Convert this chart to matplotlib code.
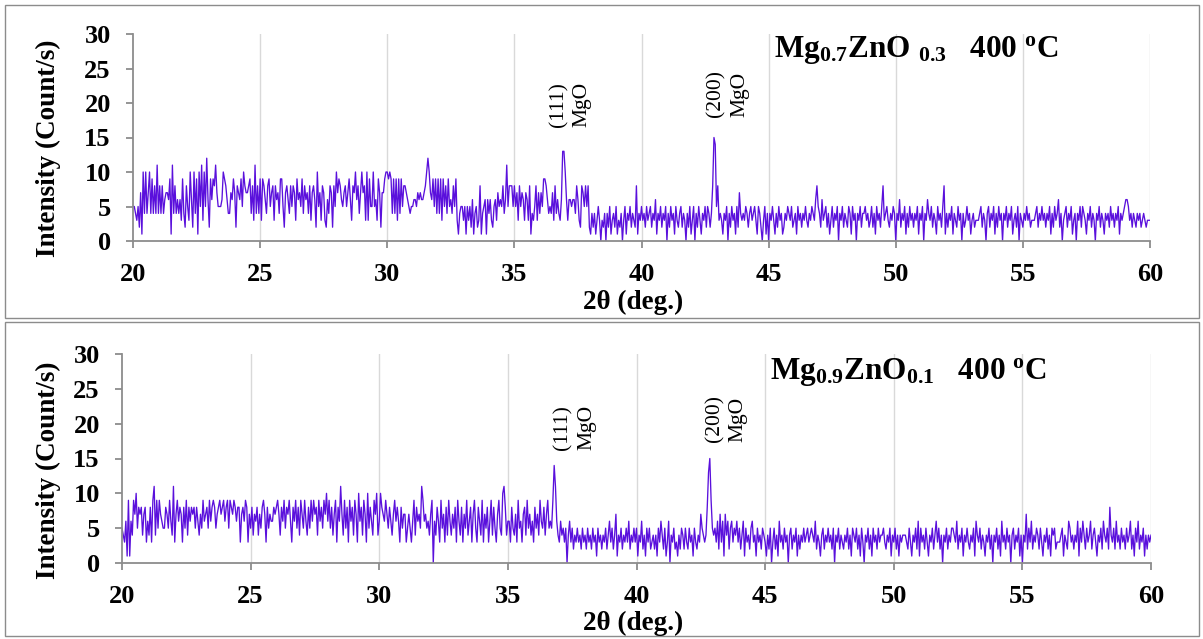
import numpy as np
import matplotlib
matplotlib.use("Agg")
import matplotlib.pyplot as plt
from matplotlib.patches import Rectangle

plt.rcParams["font.family"] = ["Liberation Serif", "DejaVu Serif"]
plt.rcParams["mathtext.fontset"] = "custom"
plt.rcParams["mathtext.rm"] = "Liberation Serif"
plt.rcParams["mathtext.bf"] = "Liberation Serif:bold"
plt.rcParams["mathtext.default"] = "bf"

# XRD scans, 20-60 deg, 0.05 deg step; one list per 5 degrees
top_20 = [5, 5, 4, 3, 5, 2, 7, 1, 10, 4, 10, 4, 7, 10, 4, 9, 4, 8, 4, 11,
          4, 8, 4, 8, 4, 6, 7, 7, 6, 9, 1, 11, 4, 8, 4, 6, 4, 6, 3, 9,
          4, 2, 8, 5, 3, 10, 6, 2, 10, 4, 9, 1, 10, 5, 11, 3, 10, 5, 12, 6,
          2, 9, 6, 9, 8, 11, 7, 5, 5, 5, 6, 10, 9, 8, 6, 4, 4, 7, 6, 9,
          7, 2, 8, 7, 6, 9, 5, 10, 8, 7, 7, 8, 9, 4, 8, 3, 11, 4, 8, 4]
top_25 = [9, 3, 9, 8, 6, 4, 8, 9, 5, 7, 8, 3, 8, 6, 7, 4, 9, 9, 5, 2,
          7, 8, 6, 4, 8, 5, 8, 7, 3, 9, 6, 7, 5, 9, 4, 8, 6, 7, 4, 8,
          3, 7, 8, 6, 2, 10, 5, 7, 3, 8, 7, 3, 2, 6, 4, 8, 7, 2, 8, 5,
          10, 7, 9, 8, 6, 5, 7, 8, 5, 7, 9, 6, 3, 8, 7, 10, 6, 8, 4, 7,
          10, 7, 8, 3, 10, 3, 9, 5, 5, 10, 5, 6, 3, 9, 7, 2, 7, 7, 9, 10]
top_30 = [10, 9, 10, 9, 4, 9, 4, 9, 3, 9, 4, 9, 5, 8, 8, 7, 6, 5, 4, 5,
          5, 6, 6, 5, 7, 6, 7, 6, 6, 7, 8, 10, 12, 10, 7, 6, 9, 5, 9, 4,
          9, 4, 9, 3, 9, 5, 8, 4, 9, 5, 6, 4, 8, 5, 9, 3, 1, 4, 5, 5,
          3, 5, 1, 5, 3, 5, 2, 6, 1, 4, 5, 2, 3, 8, 1, 4, 5, 6, 1, 6,
          4, 6, 3, 2, 5, 6, 3, 7, 5, 6, 5, 8, 4, 6, 11, 5, 8, 8, 8, 5]
top_35 = [8, 5, 7, 3, 8, 5, 7, 6, 3, 7, 6, 3, 8, 1, 4, 3, 5, 8, 3, 7,
          4, 7, 5, 9, 9, 8, 6, 4, 5, 4, 7, 3, 8, 4, 6, 4, 3, 6, 13, 13,
          10, 6, 3, 6, 6, 5, 6, 6, 4, 8, 6, 3, 2, 8, 7, 5, 8, 5, 8, 2,
          1, 4, 2, 4, 1, 3, 5, 3, 0, 3, 2, 4, 0, 4, 2, 5, 1, 3, 4, 2,
          5, 1, 3, 2, 4, 0, 3, 5, 1, 4, 3, 5, 2, 4, 3, 2, 8, 1, 4, 3]
top_40 = [5, 3, 4, 2, 5, 3, 4, 5, 2, 4, 3, 6, 1, 4, 3, 5, 2, 4, 3, 5,
          0, 4, 2, 5, 3, 4, 1, 5, 3, 2, 4, 5, 2, 4, 3, 0, 4, 2, 5, 1,
          3, 5, 0, 4, 2, 5, 3, 1, 4, 3, 5, 2, 5, 4, 2, 4, 8, 15, 14, 5,
          8, 3, 4, 3, 1, 4, 3, 5, 0, 4, 2, 5, 3, 4, 1, 5, 2, 7, 4, 3,
          4, 3, 5, 4, 2, 4, 5, 3, 4, 5, 3, 1, 5, 4, 2, 0, 3, 5, 1, 4]
top_45 = [0, 4, 3, 5, 3, 1, 4, 2, 5, 3, 4, 1, 2, 4, 3, 5, 4, 3, 5, 2,
          3, 4, 1, 5, 3, 4, 2, 4, 3, 5, 3, 2, 4, 3, 5, 4, 3, 6, 8, 5,
          4, 2, 6, 3, 4, 5, 2, 4, 1, 3, 5, 2, 4, 3, 5, 0, 4, 3, 5, 2,
          4, 3, 2, 5, 4, 1, 5, 3, 4, 0, 4, 3, 5, 2, 4, 4, 5, 3, 4, 2,
          3, 5, 2, 4, 1, 5, 3, 4, 2, 5, 8, 3, 4, 5, 3, 2, 4, 3, 5, 4]
top_50 = [0, 4, 3, 6, 2, 4, 3, 5, 1, 4, 2, 5, 3, 4, 2, 4, 3, 5, 1, 4,
          3, 5, 0, 4, 3, 6, 4, 3, 5, 2, 4, 3, 1, 5, 3, 4, 2, 5, 8, 1,
          4, 2, 4, 3, 5, 1, 4, 3, 2, 5, 3, 4, 0, 4, 2, 3, 5, 3, 4, 1,
          3, 4, 2, 3, 3, 3, 4, 5, 2, 4, 3, 0, 4, 5, 2, 4, 3, 5, 1, 4,
          2, 5, 3, 4, 0, 4, 3, 5, 2, 4, 3, 5, 1, 3, 4, 2, 5, 0, 4, 3]
top_55 = [2, 4, 3, 5, 3, 4, 2, 3, 3, 3, 4, 5, 2, 4, 3, 5, 3, 4, 2, 4,
          3, 5, 1, 4, 2, 5, 3, 4, 6, 2, 4, 0, 3, 4, 5, 2, 4, 3, 5, 1,
          3, 4, 0, 4, 3, 5, 2, 5, 4, 3, 1, 4, 3, 5, 2, 4, 3, 0, 4, 3,
          5, 2, 4, 3, 1, 4, 3, 4, 2, 5, 3, 4, 2, 4, 3, 5, 1, 4, 3, 4,
          5, 6, 6, 5, 3, 4, 2, 4, 3, 2, 4, 3, 4, 2, 3, 4, 3, 2, 3, 3, 3]

bot_20 = [5, 4, 3, 6, 1, 9, 1, 6, 4, 9, 7, 10, 5, 8, 7, 8, 4, 7, 8, 3,
          6, 4, 8, 3, 9, 11, 4, 9, 5, 9, 7, 6, 5, 5, 8, 7, 5, 9, 6, 4,
          11, 3, 7, 9, 6, 8, 7, 3, 8, 5, 9, 4, 8, 6, 8, 7, 8, 5, 8, 6,
          4, 7, 5, 9, 6, 7, 8, 5, 9, 6, 8, 9, 8, 5, 7, 8, 9, 7, 8, 9,
          6, 8, 9, 5, 9, 8, 7, 9, 8, 6, 8, 8, 3, 7, 8, 6, 9, 8, 3, 7]
bot_25 = [5, 8, 4, 7, 6, 8, 4, 7, 5, 8, 9, 7, 3, 8, 5, 7, 6, 6, 8, 7,
          8, 9, 7, 4, 8, 6, 9, 5, 8, 7, 9, 6, 3, 8, 6, 9, 5, 8, 4, 9,
          7, 5, 9, 6, 4, 8, 5, 9, 6, 9, 7, 8, 4, 9, 6, 8, 5, 9, 7, 10,
          6, 9, 5, 8, 4, 7, 9, 3, 8, 6, 11, 7, 4, 9, 5, 8, 3, 9, 6, 8,
          4, 9, 7, 3, 10, 6, 8, 4, 9, 7, 3, 10, 5, 8, 6, 4, 9, 7, 10, 4]
bot_30 = [6, 10, 8, 7, 6, 9, 7, 5, 8, 6, 4, 7, 9, 6, 8, 6, 3, 8, 5, 7,
          7, 3, 5, 7, 5, 3, 6, 9, 4, 8, 6, 7, 5, 11, 9, 6, 7, 5, 6, 4,
          7, 9, 0, 6, 4, 8, 6, 3, 9, 5, 7, 3, 8, 4, 9, 6, 4, 7, 5, 8,
          3, 9, 6, 4, 8, 3, 7, 5, 9, 4, 6, 8, 3, 7, 9, 5, 3, 8, 6, 4,
          9, 3, 7, 5, 8, 3, 6, 9, 4, 8, 5, 3, 7, 9, 5, 4, 10, 11, 8, 4]
bot_35 = [6, 6, 3, 8, 5, 4, 7, 3, 9, 5, 6, 3, 7, 8, 4, 9, 5, 7, 4, 6,
          3, 8, 5, 7, 4, 9, 6, 5, 8, 4, 7, 9, 5, 6, 5, 9, 14, 11, 6, 4,
          3, 6, 4, 5, 3, 5, 0, 4, 6, 3, 5, 2, 4, 3, 5, 3, 4, 2, 5, 3,
          4, 2, 5, 3, 4, 2, 5, 3, 4, 1, 5, 3, 4, 2, 4, 3, 5, 2, 4, 6,
          3, 5, 2, 4, 7, 1, 4, 3, 5, 2, 4, 3, 5, 3, 6, 2, 4, 3, 5, 3]
bot_40 = [5, 1, 4, 3, 6, 2, 4, 1, 5, 3, 5, 2, 3, 4, 2, 4, 1, 5, 3, 6,
          4, 2, 5, 1, 3, 6, 0, 4, 3, 5, 2, 3, 1, 4, 2, 5, 4, 2, 5, 3,
          2, 5, 3, 4, 1, 5, 3, 2, 4, 3, 7, 5, 4, 3, 4, 8, 13, 15, 9, 5,
          4, 5, 3, 6, 2, 7, 3, 6, 1, 7, 4, 6, 2, 5, 6, 3, 5, 4, 6, 3,
          5, 2, 4, 6, 1, 5, 3, 4, 2, 5, 6, 3, 4, 1, 5, 3, 4, 2, 5, 4]
bot_45 = [3, 1, 4, 2, 5, 0, 3, 5, 2, 4, 1, 6, 3, 4, 2, 5, 3, 4, 0, 4,
          5, 2, 4, 3, 5, 1, 4, 2, 4, 3, 5, 3, 4, 5, 3, 4, 5, 4, 3, 6,
          2, 4, 3, 1, 4, 5, 2, 4, 3, 5, 3, 4, 2, 5, 0, 4, 3, 5, 2, 4,
          3, 2, 4, 3, 5, 2, 4, 1, 5, 4, 3, 5, 2, 4, 1, 5, 3, 0, 4, 3,
          5, 2, 4, 1, 5, 3, 4, 2, 5, 3, 4, 4, 5, 3, 2, 4, 3, 5, 1, 4]
bot_50 = [3, 5, 2, 4, 1, 4, 3, 4, 4, 4, 3, 2, 5, 3, 1, 4, 3, 5, 2, 6,
          1, 5, 3, 4, 2, 5, 3, 1, 4, 3, 5, 2, 4, 6, 3, 5, 2, 4, 0, 4,
          3, 5, 2, 4, 3, 5, 5, 4, 3, 6, 2, 4, 3, 5, 1, 4, 3, 5, 3, 2,
          4, 3, 5, 1, 6, 4, 3, 5, 2, 4, 3, 1, 4, 3, 5, 2, 4, 0, 4, 3,
          5, 2, 4, 1, 6, 3, 4, 2, 5, 3, 4, 0, 4, 5, 2, 4, 3, 5, 1, 4]
bot_55 = [0, 4, 3, 7, 2, 5, 3, 6, 2, 4, 3, 5, 4, 2, 5, 3, 1, 4, 3, 5,
          2, 4, 1, 5, 4, 5, 2, 3, 3, 3, 4, 5, 1, 4, 3, 2, 6, 5, 3, 4,
          2, 4, 3, 6, 1, 5, 3, 6, 4, 2, 5, 3, 4, 6, 2, 4, 5, 3, 1, 4,
          3, 5, 2, 6, 4, 3, 5, 2, 8, 4, 3, 5, 2, 6, 3, 4, 2, 5, 3, 4,
          2, 5, 3, 4, 6, 2, 4, 1, 5, 3, 6, 2, 4, 3, 5, 1, 4, 2, 4, 3, 4]

top_counts = top_20 + top_25 + top_30 + top_35 + top_40 + top_45 + top_50 + top_55
bot_counts = bot_20 + bot_25 + bot_30 + bot_35 + bot_40 + bot_45 + bot_50 + bot_55

x_ticks = [20, 25, 30, 35, 40, 45, 50, 55, 60]
y_ticks = [0, 5, 10, 15, 20, 25, 30]
top_title = r"Mg$_{0.7}$ZnO $_{0.3}$   400 $^{o}$C"
bot_title = r"Mg$_{0.9}$ZnO$_{0.1}$   400 $^{o}$C"
top_peaks = [(37.2, 16.5, "(111)\nMgO"), (43.4, 17.9, "(200)\nMgO")]
bot_peaks = [(37.6, 16.2, "(111)\nMgO"), (43.5, 17.4, "(200)\nMgO")]

LINE = "#5a10dc"
AXIS = "#8c8c8c"
GRID = "#d9d9d9"

W, H = 1203, 639
fig = plt.figure(figsize=(W / 100, H / 100), dpi=100)


def px_box(x0, y0, x1, y1):
    return [x0 / W, 1 - y1 / H, (x1 - x0) / W, (y1 - y0) / H]


def panel(rect, frame, counts, title, title_xy, peaks, ylab_y, xlab_y):
    fig.patches.append(Rectangle((frame[0] / W, 1 - frame[3] / H),
                                 (frame[2] - frame[0]) / W, (frame[3] - frame[1]) / H,
                                 transform=fig.transFigure, fill=False,
                                 edgecolor=AXIS, linewidth=1.0))
    ax = fig.add_axes(rect)
    two_theta = np.linspace(20, 60, len(counts))
    ax.plot(two_theta, counts, color=LINE, linewidth=0.95)
    ax.set_xlim(20, 60)
    ax.set_ylim(0, 30)
    ax.set_xticks(x_ticks)
    ax.set_yticks(y_ticks)
    for v in x_ticks[1:]:
        ax.axvline(v, color=GRID, linewidth=1.0, zorder=0)
    for s in ("top", "right"):
        ax.spines[s].set_visible(False)
    for s in ("left", "bottom"):
        ax.spines[s].set_color(AXIS)
        ax.spines[s].set_linewidth(1.3)
    ax.tick_params(axis="both", colors=AXIS, length=5, width=1.3,
                   labelcolor="black", labelsize=19, pad=11)
    for lab in ax.get_xticklabels() + ax.get_yticklabels():
        lab.set_fontweight("bold")
    ax.text(title_xy[0], title_xy[1], title, fontsize=22.5, fontweight="bold",
            va="center", ha="left")
    for px, py, txt in peaks:
        ax.text(px, py, txt, rotation=90, fontsize=15.5, ha="center", va="bottom",
                multialignment="left", linespacing=1.3)
    fig.text(48 / W, 1 - ylab_y / H, "Intensity (Count/s)", rotation=90,
             fontsize=19.5, fontweight="bold", ha="center", va="center")
    fig.text(633 / W, 1 - xlab_y / H, "2θ (deg.)", fontsize=19.5,
             fontweight="bold", ha="center", va="center")
    return ax


panel(px_box(133, 34, 1150, 241), (5, 5, 1199, 318), top_counts, top_title,
      (45.2, 27.7), top_peaks, 148, 302)
panel(px_box(122, 354, 1151, 563), (5, 322, 1199, 636), bot_counts, bot_title,
      (45.2, 27.4), bot_peaks, 470, 623)

fig.savefig("out.png", dpi=100)
